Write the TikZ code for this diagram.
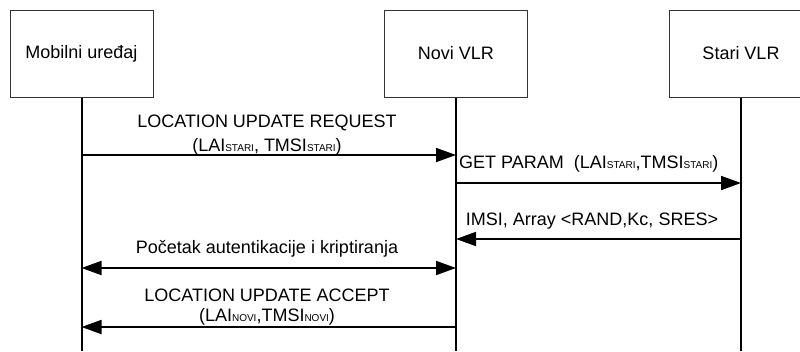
\documentclass[tikz,border=0pt]{standalone}
\usepackage{fontspec}
\setmainfont{Liberation Sans}
\usetikzlibrary{arrows.meta}
\newcommand{\idx}[1]{{\fontsize{10}{10}\selectfont #1}}
\tikzset{
    entity/.style={draw=black!80, line width=1pt, minimum width=143pt, minimum height=87pt, inner sep=0pt, font=\fontsize{18}{20}\selectfont},
    lifeline/.style={line width=2pt},
    msg/.style={line width=1.8pt, -{Triangle[length=20pt,width=14pt]}},
    msgboth/.style={line width=1.8pt, {Triangle[length=20pt,width=14pt]}-{Triangle[length=20pt,width=14pt]}},
    msglabel/.style={inner sep=0pt, align=center, font=\fontsize{18}{24}\selectfont}
}

\begin{document}
\begin{tikzpicture}[x=1pt, y=-1pt]
    \useasboundingbox (0,0) rectangle (800,351);

    % Draw the entities
    \node[entity] (mob) at (81.5,53.5) {Mobilni uređaj};
    \node[entity] (novi) at (456,53.5) {Novi VLR};
    \node[entity] (stari) at (741,53.5) {Stari VLR};

    % Draw lifelines
    \foreach \e in {mob, novi, stari} {
        \coordinate (\e end) at (\e.south |- 0,351);
        \draw[lifeline] (\e.south) -- (\e end);
    }

    % Message points on the lifelines
    \coordinate (mob1) at (mob.south |- 0,155);
    \coordinate (novi1) at (novi.south |- 0,155);
    \coordinate (novi2) at (novi.south |- 0,183);
    \coordinate (stari2) at (stari.south |- 0,183);
    \coordinate (novi3) at (novi.south |- 0,239);
    \coordinate (stari3) at (stari.south |- 0,239);
    \coordinate (mob4) at (mob.south |- 0,268);
    \coordinate (novi4) at (novi.south |- 0,268);
    \coordinate (mob5) at (mob.south |- 0,327);
    \coordinate (novi5) at (novi.south |- 0,327);

    % Draw the messages
    \draw[msg] (mob1) -- (novi1);
    \draw[msg] (novi2) -- (stari2);
    \draw[msg] (stari3) -- (novi3);
    \draw[msgboth] (mob4) -- (novi4);
    \draw[msg] (novi5) -- (mob5);

    % Add message labels
    \node[msglabel] (req) at (267,135.5) {LOCATION UPDATE REQUEST\\(LAI\idx{STARI}, TMSI\idx{STARI})};
    \node[msglabel, anchor=base west] (param) at (459,168) {GET PARAM\ \ (LAI\idx{STARI},TMSI\idx{STARI})};
    \node[msglabel, anchor=base] (imsi) at (592,225) {IMSI, Array <RAND,Kc, SRES>};
    \node[msglabel, anchor=base] (auth) at (267,253) {Početak autentikacije i kriptiranja};
    \node[msglabel, font=\fontsize{18}{20}\selectfont] (acc) at (267,307) {LOCATION UPDATE ACCEPT\\(LAI\idx{NOVI},TMSI\idx{NOVI})};
\end{tikzpicture}
\end{document}
